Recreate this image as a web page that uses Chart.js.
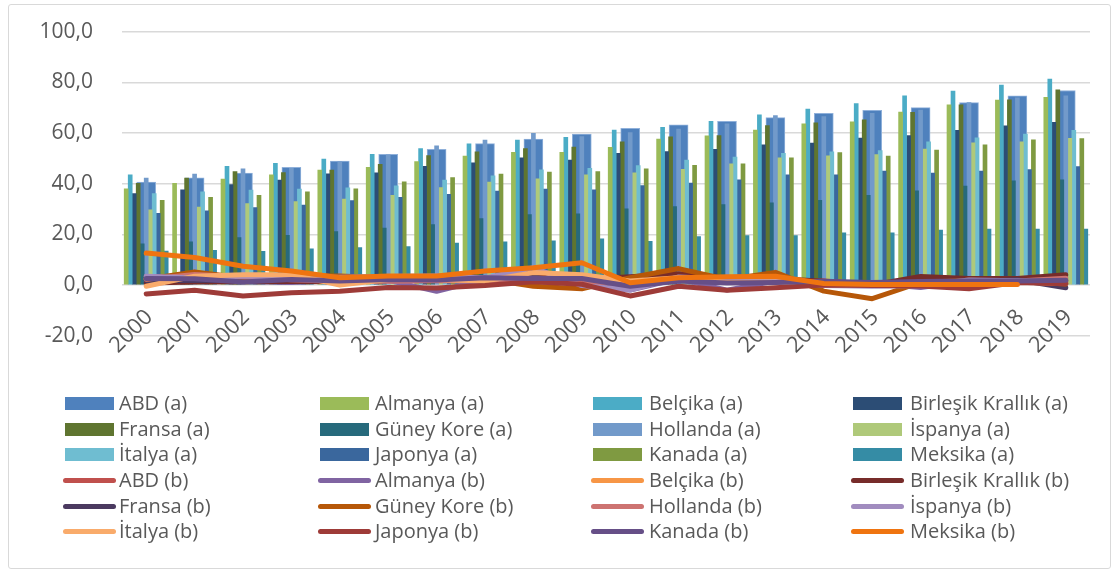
<!DOCTYPE html>
<html>
<head>
<meta charset="utf-8">
<script src="https://cdn.jsdelivr.net/npm/chart.js@4.4.1/dist/chart.umd.min.js"></script>
<style>
  body { margin: 0; background: #fff; }
  #wrap { position: relative; width: 1120px; height: 574px; overflow: hidden; }
  #frame { position: absolute; left: 8px; top: 4px; width: 1103px; height: 565px; border: 1px solid #d9d9d9; border-radius: 3px; box-sizing: border-box; pointer-events: none; }
  #chart { position: absolute; left: 0; top: 0; }
  .lg { position: absolute; font-family: "Open Sans", sans-serif; font-size: 20px; color: #595959; white-space: nowrap; line-height: 24px; }
  .mk { position: absolute; }
</style>
</head>
<body>
<div id="wrap">
  <canvas id="chart" width="1120" height="574"></canvas>
  <div id="legend"></div>
  <div id="frame"></div>
</div>
<script>
// yıllar
const years = ["2000","2001","2002","2003","2004","2005","2006","2007","2008","2009",
               "2010","2011","2012","2013","2014","2015","2016","2017","2018","2019"];

// (a) serileri - sütunlar
const abdA      = [40.6,42.3,44.2,46.5,48.9,51.6,53.6,55.8,57.6,59.6,61.9,63.2,64.6,66.1,67.8,69.0,70.0,72.0,74.7,76.8];
const almanyaA  = [38.0,40.1,41.8,43.5,45.4,46.5,48.7,50.9,52.4,52.4,54.4,57.6,58.9,61.2,63.6,64.4,68.3,71.1,73.0,74.1];
const belcikaA  = [43.5,null,46.9,48.0,49.7,51.6,53.9,55.7,57.2,58.3,61.2,62.3,64.6,67.2,69.5,71.6,74.7,76.6,78.9,81.3];
const ingA      = [36.1,37.6,39.7,41.4,43.9,44.3,46.9,48.2,50.2,49.3,52.0,52.7,53.6,55.3,56.0,58.0,59.0,61.1,62.8,64.2];
const fransaA   = [40.1,42.2,44.8,44.4,45.4,47.6,51.1,52.6,53.9,54.5,56.5,58.5,59.0,62.9,64.0,65.2,68.2,71.1,73.1,77.1];
const koreA     = [16.3,17.1,18.7,19.6,21.1,22.5,23.9,26.2,27.8,28.1,30.1,31.0,31.8,32.4,33.4,35.4,37.2,39.1,41.1,41.5];
const hollandaA = [42.2,43.8,45.9,46.1,48.6,51.4,54.9,57.2,59.9,58.6,60.2,61.6,63.6,66.9,66.5,67.8,69.1,72.0,73.9,74.7];
const ispanyaA  = [29.7,30.8,32.2,32.9,33.9,35.4,38.5,40.6,41.9,43.5,44.3,45.7,47.8,50.2,51.0,51.5,53.7,56.1,56.5,57.9];
const italyaA   = [36.1,36.8,37.5,37.9,38.4,39.2,41.4,43.1,45.5,46.1,47.2,49.3,50.5,52.0,52.6,53.1,56.5,58.1,59.6,61.1];
const japonyaA  = [28.3,29.3,30.6,31.6,33.3,34.6,35.8,37.1,37.9,37.6,39.3,40.2,41.5,43.5,43.5,45.0,44.2,45.0,45.6,46.8];
const kanadaA   = [33.4,34.6,35.4,36.8,38.0,40.7,42.4,43.8,44.6,44.8,45.9,47.3,47.8,50.2,52.3,50.9,53.3,55.3,57.3,57.8];
const meksikaA  = [13.4,13.7,13.3,14.3,14.8,15.2,16.6,17.1,17.4,18.2,17.3,19.1,19.5,19.5,20.6,20.6,21.7,22.1,22.1,22.1];

// (b) serileri - çizgiler
const abdB      = [3.4,2.8,1.6,2.3,2.7,3.4,3.2,2.9,3.8,-0.4,1.6,3.2,2.1,1.5,1.6,0.1,1.3,2.1,2.4,1.8];
const almanyaB  = [1.4,1.9,1.4,1.0,1.8,1.9,-2.5,2.3,2.8,0.2,-2.0,2.5,-2.0,1.6,0.8,0.7,-1.0,1.7,1.9,1.4];
const belcikaB  = [2.5,2.5,1.6,1.5,1.9,2.5,2.3,1.8,4.5,0.0,2.3,3.5,2.6,1.2,0.5,0.6,1.8,2.2,2.3,1.2];
const ingB      = [0.8,1.2,1.3,1.4,1.3,2.1,2.3,2.3,3.6,2.2,3.3,4.5,2.8,2.6,1.5,0.0,3.4,2.6,2.6,4.1];
const fransaB   = [1.8,1.8,1.9,2.2,2.3,1.9,1.9,1.6,3.2,0.1,1.7,2.3,2.2,1.0,0.6,0.1,0.3,1.2,2.1,-1.1];
const koreB     = [2.3,5.2,2.8,3.5,3.6,2.8,2.2,2.5,-0.5,-1.5,2.9,6.5,2.2,5.0,-2.4,-5.4,1.0,1.9,1.5,0.4];
const hollandaB = [2.3,4.2,3.3,2.1,1.4,1.5,1.7,1.6,2.2,1.0,0.9,2.5,2.8,2.6,0.3,0.2,0.1,1.3,1.6,2.7];
const ispanyaB  = [3.5,2.8,3.6,3.1,3.1,3.4,3.6,2.8,6.8,-0.2,-2.0,3.2,2.4,1.4,-0.2,-0.5,-0.2,2.0,1.7,0.7];
const italyaB   = [-0.5,3.5,4.1,4.1,0.0,2.2,2.2,1.6,4.9,4.1,1.6,2.9,1.0,1.2,0.2,0.1,-0.1,1.3,1.2,0.6];
const japonyaB  = [-3.5,-2.1,-4.3,-3.0,-2.5,-1.0,-1.2,-0.2,1.3,0.3,-4.3,-0.5,-2.1,-1.1,0.0,-0.2,-0.4,-1.5,1.0,0.5];
const kanadaB   = [2.6,2.5,1.2,2.2,1.6,2.2,2.0,2.9,2.6,2.6,-0.5,1.6,0.8,1.0,1.5,1.0,1.4,1.6,1.6,1.9];
const meksikaB  = [12.6,10.9,7.4,5.5,2.9,3.6,3.6,5.5,6.8,8.8,0.9,2.9,3.3,3.5,0.6,0.2,0.2,0.2,0.2,null];

const countries = ["ABD","Almanya","Belçika","Birleşik Krallık","Fransa","Güney Kore",
                   "Hollanda","İspanya","İtalya","Japonya","Kanada","Meksika"];
const seriesA = [abdA, almanyaA, belcikaA, ingA, fransaA, koreA, hollandaA, ispanyaA, italyaA, japonyaA, kanadaA, meksikaA];
const seriesB = [abdB, almanyaB, belcikaB, ingB, fransaB, koreB, hollandaB, ispanyaB, italyaB, japonyaB, kanadaB, meksikaB];

const barColors  = ["#4f81bd","#9bbb59","#4bacc6","#2c4d75","#5f7530","#276a7c",
                    "#729aca","#afc97a","#6fbdd1","#3a679d","#7f9a41","#358ca5"];
const lineColors = ["#c0504d","#8064a2","#f79646","#772c2a","#4b3a60","#b65708",
                    "#cd7371","#a18cbf","#f9ab6b","#9e3b38","#664f87","#ef7410"];

const datasets = [];
countries.forEach((c, i) => {
  const isAbd = i === 0;
  datasets.push({
    type: "bar",
    label: c + " (a)",
    data: seriesA[i],
    backgroundColor: barColors[i],
    borderColor: isAbd ? "#8fb0da" : barColors[i],
    borderWidth: isAbd ? 1 : 0,
    grouped: !isAbd,          // ABD geniş sütun, grubun arkasında ortalı
    barThickness: isAbd ? 19 : 4,
    order: isAbd ? 100 : 50
  });
});
countries.forEach((c, i) => {
  datasets.push({
    type: "line",
    label: c + " (b)",
    data: seriesB[i],
    borderColor: lineColors[i],
    backgroundColor: lineColors[i],
    borderWidth: 5,
    pointRadius: 0,
    tension: 0,
    borderCapStyle: "round",
    borderJoinStyle: "round",
    order: -i                 // sonraki seri üstte
  });
});

// yıl etiketleri: 45° döndürülmüş, -20 çizgisinin üstüne taşan
const yearLabels = {
  id: "yearLabels",
  afterDraw(chart) {
    const sx = chart.scales.x;
    const ctx = chart.ctx;
    const yPos = chart.chartArea.bottom - 22;
    ctx.save();
    ctx.font = "22px 'Open Sans'";
    ctx.fillStyle = "#595959";
    ctx.textAlign = "right";
    ctx.textBaseline = "middle";
    sx.ticks.forEach((t, i) => {
      ctx.save();
      ctx.translate(sx.getPixelForTick(i) + 3, yPos);
      ctx.rotate(-Math.PI / 4);
      ctx.fillText(sx.getLabelForValue(t.value), 0, 0);
      ctx.restore();
    });
    ctx.restore();
  }
};

const tickFont = { family: "Open Sans", size: 21 };

new Chart(document.getElementById("chart"), {
  type: "bar",
  data: { labels: years, datasets: datasets },
  options: {
    responsive: false,
    animation: false,
    layout: { padding: { top: 31.7, right: 30, left: 0, bottom: 0 } },
    plugins: { legend: { display: false }, tooltip: { enabled: false } },
    scales: {
      x: {
        offset: true,
        grid: { display: false },
        border: { display: false },
        ticks: { display: false, autoSkip: false },
        afterFit: s => { s.height = 238.3; }
      },
      y: {
        min: -20,
        max: 100,
        grid: { color: "#d9d9d9", lineWidth: 1.5, drawTicks: false },
        border: { display: false },
        ticks: {
          stepSize: 20,
          font: tickFont,
          color: "#595959",
          padding: 29,
          callback: v => v.toFixed(1).replace(".", ",")
        },
        afterFit: s => {
          s.width = 122;
          s.paddingTop = 0;       // etiket boşluğu üst kenarı itmesin
          s.paddingBottom = 0;
        }
      }
    }
  },
  plugins: [yearLabels]
});

// gösterge (4 sütun)
const colMarker = [65, 320, 593, 853];
const colText = [119, 375, 649, 910];
const legend = document.getElementById("legend");
const items = [];
countries.forEach((c, i) => items.push({ text: c + " (a)", color: barColors[i], bar: true }));
countries.forEach((c, i) => items.push({ text: c + " (b)", color: lineColors[i], bar: false }));
items.forEach((it, k) => {
  const col = k % 4, row = Math.floor(k / 4);
  const cy = 403.3 + row * 25.7;
  const m = document.createElement("div");
  m.className = "mk";
  if (it.bar) {
    m.style.cssText = `left:${colMarker[col]}px;top:${cy - 6.5}px;width:49px;height:13px;background:${it.color};`;
  } else {
    m.style.cssText = `left:${colMarker[col] - 2}px;top:${cy - 2.5}px;width:53px;height:5px;border-radius:3px;background:${it.color};`;
  }
  legend.appendChild(m);
  const t = document.createElement("div");
  t.className = "lg";
  t.textContent = it.text;
  t.style.left = colText[col] + "px";
  t.style.top = (cy - 12.5) + "px";
  legend.appendChild(t);
});
</script>
</body>
</html>
